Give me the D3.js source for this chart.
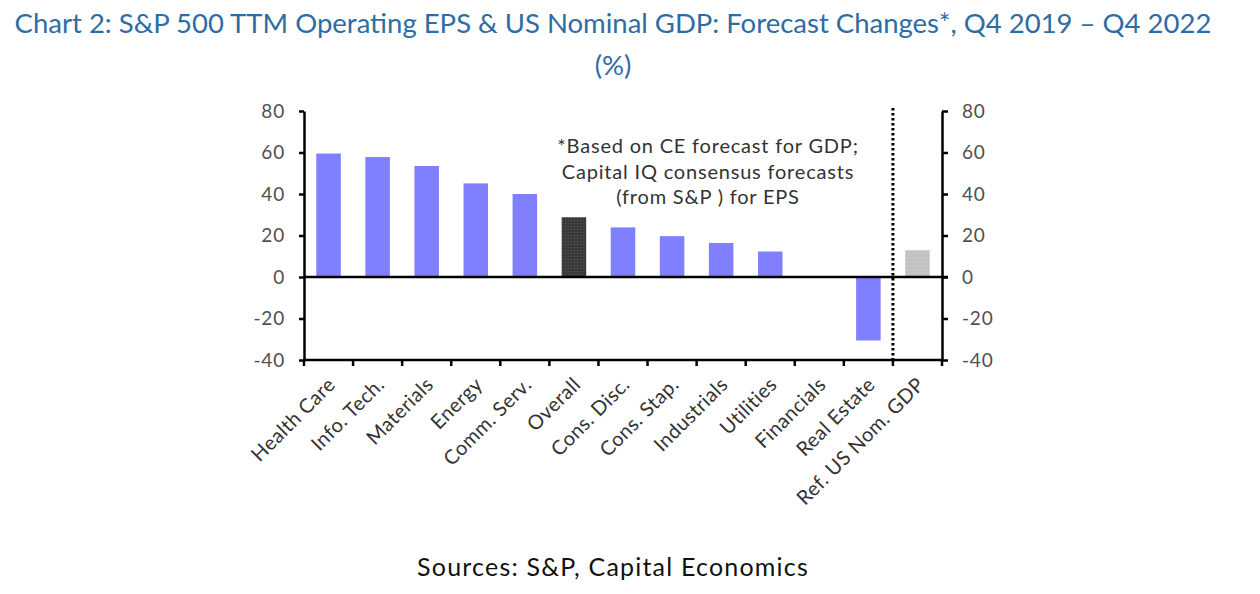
<!DOCTYPE html>
<html>
<head>
<meta charset="utf-8">
<script src="https://cdn.jsdelivr.net/npm/d3@7"></script>
<style>
  html, body { margin: 0; padding: 0; background: #fff; }
  svg { display: block; }
  text { font-family: Lato, "Open Sans", sans-serif; }
</style>
</head>
<body>
<svg id="chart" width="1260" height="594"></svg>
<script>
const categories = ["Health Care", "Info. Tech.", "Materials", "Energy", "Comm. Serv.", "Overall",
  "Cons. Disc.", "Cons. Stap.", "Industrials", "Utilities", "Financials", "Real Estate", "Ref. US Nom. GDP"];
const values = [59.5, 57.8, 53.5, 45.1, 40.0, 28.8, 23.9, 19.7, 16.4, 12.3, 0, -30.6, 12.9];
const kinds = ["sector", "sector", "sector", "sector", "sector", "overall",
  "sector", "sector", "sector", "sector", "sector", "sector", "gdp"];
const yTicks = [-40, -20, 0, 20, 40, 60, 80];
const titleLines = ["Chart 2: S&P 500 TTM Operating EPS & US Nominal GDP: Forecast Changes*, Q4 2019 \u2013 Q4 2022", "(%)"];
const noteLines = ["*Based on CE forecast for GDP;", "Capital IQ consensus forecasts", "(from S&P ) for EPS"];
const sourceText = "Sources: S&P, Capital Economics";

const svg = d3.select("#chart");
const pLeft = 304, pRight = 942, pTop = 111, pBottom = 360;

const x = d3.scaleBand().domain(categories).range([pLeft, pRight]).paddingInner(0.5).paddingOuter(0.25);
const xb = d3.scaleBand().domain(categories).range([pLeft, pRight]);
const y = d3.scaleLinear().domain([-40, 80]).range([pBottom, pTop]);

// patterns
const defs = svg.append("defs");
const p1 = defs.append("pattern").attr("id", "darkPat").attr("patternUnits", "userSpaceOnUse")
  .attr("width", 3).attr("height", 3);
p1.append("rect").attr("width", 3).attr("height", 3).attr("fill", "#3a3a3a");
p1.append("rect").attr("x", 1).attr("y", 1).attr("width", 1).attr("height", 1).attr("fill", "#585858");
const p2 = defs.append("pattern").attr("id", "grayPat").attr("patternUnits", "userSpaceOnUse")
  .attr("width", 4).attr("height", 4);
p2.append("rect").attr("width", 4).attr("height", 4).attr("fill", "#c2c2c2");
p2.append("rect").attr("x", 1).attr("y", 1).attr("width", 1).attr("height", 1).attr("fill", "#d6d6d6");

const fills = { sector: "#8080ff", overall: "url(#darkPat)", gdp: "url(#grayPat)" };

// title
svg.append("text").attr("x", 613).attr("y", 33).attr("text-anchor", "middle")
  .attr("font-size", 27.5).attr("fill", "#2e6ca4").text(titleLines[0]);
svg.append("text").attr("x", 613).attr("y", 75).attr("text-anchor", "middle")
  .attr("font-size", 27.5).attr("fill", "#2e6ca4").text(titleLines[1]);

// bars
svg.append("g").selectAll("rect").data(categories).join("rect")
  .attr("x", d => x(d))
  .attr("width", x.bandwidth())
  .attr("y", (d, i) => y(Math.max(0, values[i])))
  .attr("height", (d, i) => Math.abs(y(values[i]) - y(0)))
  .attr("fill", (d, i) => fills[kinds[i]]);

// axes
const fmt = d => String(d);
const yAxisL = d3.axisLeft(y).tickValues(yTicks).tickFormat(fmt).tickSize(5).tickPadding(14).tickSizeOuter(0);
const gL = svg.append("g").attr("transform", `translate(${pLeft},0)`).call(yAxisL);
const yAxisR = d3.axisRight(y).tickValues(yTicks).tickFormat(fmt).tickSize(6).tickPadding(14).tickSizeOuter(0);
const gR = svg.append("g").attr("transform", `translate(${pRight},0)`).call(yAxisR);
[gL, gR].forEach(g => {
  g.select(".domain").attr("stroke", "#000").attr("stroke-width", 2.5);
  g.selectAll(".tick line").attr("stroke", "#000").attr("stroke-width", 2.5);
  g.selectAll(".tick text").attr("font-size", 19).attr("fill", "#505050")
    .attr("letter-spacing", 0.8).attr("font-family", "Lato, sans-serif");
});

// bottom axis
const tickPos = categories.map(c => xb(c)).concat([pRight]);
svg.append("line").attr("x1", pLeft - 1).attr("x2", pRight + 1).attr("y1", pBottom).attr("y2", pBottom)
  .attr("stroke", "#000").attr("stroke-width", 2.5);
svg.append("g").selectAll("line").data(tickPos).join("line")
  .attr("x1", d => d).attr("x2", d => d).attr("y1", pBottom).attr("y2", pBottom + 6)
  .attr("stroke", "#000").attr("stroke-width", 2.5);

// zero line
svg.append("line").attr("x1", pLeft).attr("x2", pRight + 6).attr("y1", y(0)).attr("y2", y(0))
  .attr("stroke", "#000").attr("stroke-width", 2.5);

// dotted divider
const divX = xb(categories[categories.length - 1]);
svg.append("line").attr("x1", divX).attr("x2", divX).attr("y1", pTop - 3).attr("y2", pBottom)
  .attr("stroke", "#000").attr("stroke-width", 3).attr("stroke-dasharray", "2.5,2.5");

// category labels
svg.append("g").selectAll("text").data(categories).join("text")
  .attr("transform", d => `translate(${xb(d) + xb.bandwidth() / 2 + 3},${pBottom + 21}) rotate(-45)`)
  .attr("text-anchor", "end").attr("dy", "0.35em")
  .attr("font-size", 20).attr("letter-spacing", 0.4).attr("fill", "#333").text(d => d);

// note
svg.append("g").selectAll("text").data(noteLines).join("text")
  .attr("x", 708).attr("y", (d, i) => 153 + i * 25.5)
  .attr("text-anchor", "middle").attr("font-size", 20).attr("letter-spacing", 0.8)
  .attr("fill", "#333").text(d => d);

// source
svg.append("text").attr("x", 613).attr("y", 576).attr("text-anchor", "middle")
  .attr("font-size", 25).attr("letter-spacing", 1.2).attr("fill", "#111").text(sourceText);
</script>
</body>
</html>
